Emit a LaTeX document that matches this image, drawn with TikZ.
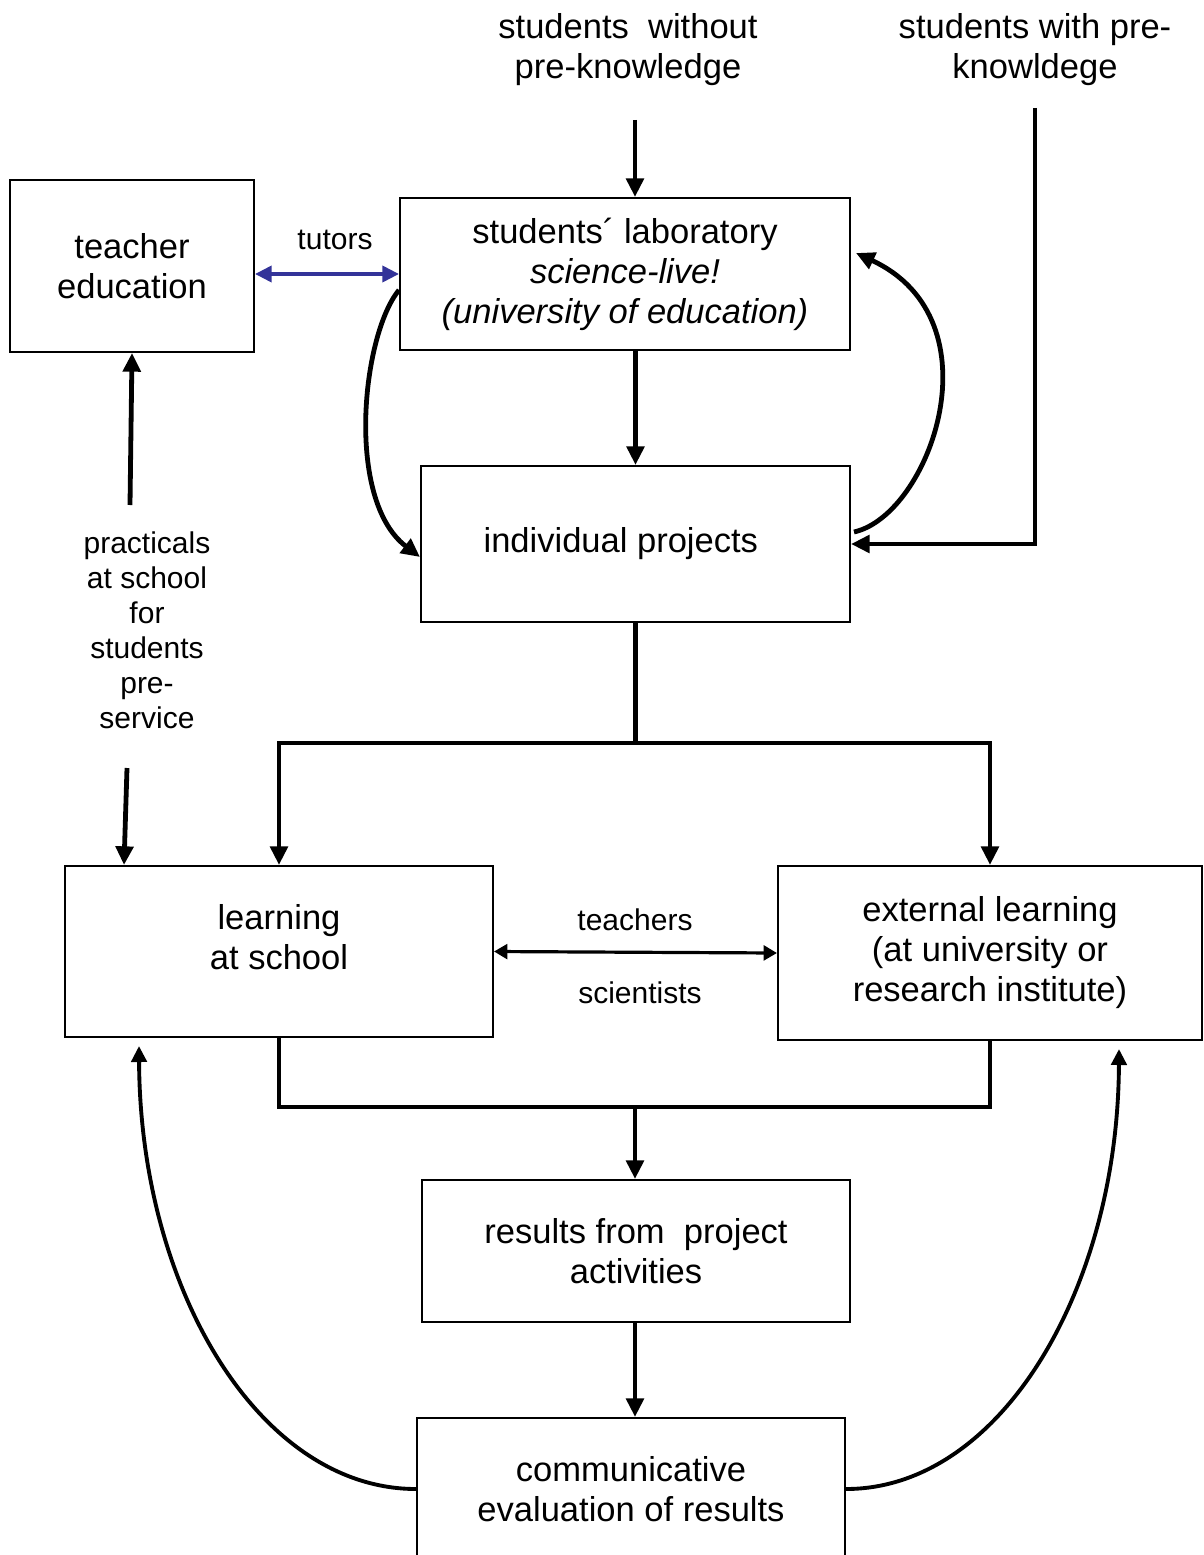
\documentclass[tikz,border=0pt]{standalone}
\usepackage{fontspec}
\setmainfont{Liberation Sans}
\usetikzlibrary{arrows.meta,calc}
\definecolor{tutblue}{HTML}{333399}
\tikzset{
  box/.style={draw=black, line width=1.5pt, rectangle, inner sep=0pt, align=center,
    font=\fontsize{25.9}{30}\selectfont},
  bigtxt/.style={align=center, inner sep=0pt, font=\fontsize{25.9}{30}\selectfont},
  smalltxt/.style={align=center, inner sep=0pt, font=\fontsize{22.5}{26.25}\selectfont},
  thickarr/.style={line width=3.6pt, -{Triangle[length=14pt,width=13pt]}},
  thickline/.style={line width=3.6pt},
  curvearr/.style={line width=2.9pt, -{Triangle[length=12pt,width=11.5pt]}},
  tutarr/.style={draw=tutblue, line width=2.8pt, {Triangle[length=12.5pt,width=12pt]}-{Triangle[length=12.5pt,width=12pt]}},
  tsarr/.style={line width=2.4pt, {Triangle[length=10pt,width=11pt]}-{Triangle[length=10pt,width=11pt]}},
}
\begin{document}
\begin{tikzpicture}[x=0.75pt, y=-0.75pt, line join=miter]
\clip (0,0) rectangle (1203,1555);
\fill[white] (0,0) rectangle (1203,1555);

% boxes
\node[box, minimum width=183pt, minimum height=129pt] (teacher) at (132,266) {teacher\\education};
\node[box, minimum width=337.5pt, minimum height=114pt] (lab) at (625,274)
  {students´ laboratory\\\textit{science-live!}\\\textit{(university of education)}};
\node[box, minimum width=321.75pt, minimum height=117pt] (indiv) at (635.5,544) {individual projects\hspace*{22pt}};
\node[box, minimum width=321pt, minimum height=128.25pt] (school) at (279,951.5) {};
\node[bigtxt] (schooltxt) at (279,937) {learning\\at school};
\node[box, minimum width=318pt, minimum height=130.5pt] (external) at (990,953)
  {external learning\\(at university or\\research institute)};
\node[box, minimum width=321pt, minimum height=106.5pt] (results) at (636,1251) {results from~ project\\activities};
\node[box, minimum width=321pt, minimum height=106.5pt] (comm) at (631,1489) {communicative\\evaluation of results};

% free texts
\node[bigtxt] (without) at (628,50) {students~ without\\pre-knowledge};
\node[bigtxt] (withpre) at (1035,50) {students with pre-\\knowldege};
\node[smalltxt] (tutors) at (335,240) {tutors};
\node[smalltxt] (prac) at (147,630) {practicals\\at school\\for\\students\\pre-\\service};
\node[smalltxt] (teachers) at (635,920) {teachers};
\node[smalltxt] (scientists) at (640,993) {scientists};

% coordinates
\coordinate (topin) at (635,120);
\coordinate (wp) at (1035,108);
\coordinate (sp) at (635,743);
\coordinate (mg) at (635,1107);
\coordinate (pa) at (130,505);
\coordinate (pb) at (127,768);

% connectors
\draw[thickarr] (topin) -- (topin |- lab.north);
\draw[thickarr] (wp) |- (indiv.east);
\draw[tutarr] (teacher.east |- lab.west) -- (lab.west);
\draw[thickarr] (indiv.north |- lab.south) -- (indiv.north);
\draw[thickarr] ($(lab.west)+(0,16)$) .. controls (362,335) and (345,500) .. ($(indiv.west)+(0,13)$);
\draw[thickarr] ($(indiv.east)+(3,-12)$) .. controls (930,515) and (1000,320) .. ($(lab.east)+(5,-21)$);

\draw[thickline] (indiv.south) -- (indiv.south |- sp);
\draw[thickarr] (indiv.south |- sp) -| (school.north);
\draw[thickarr] (indiv.south |- sp) -| (external.north);

\draw[thickarr] (pa) -- (teacher.south);
\draw[thickarr] (pb) -- ($(school.north west)+(60,0)$);

\draw[tsarr] (school.east) -- (external.west);

\draw[thickline] (school.south) |- (mg) -| (external.south);
\draw[thickarr] (mg) -- (mg |- results.north);
\draw[thickarr] (results.south -| mg) -- (mg |- comm.north);

\draw[curvearr] (comm.west) .. controls (260,1489) and (140,1290) .. ($(school.south west)+(75,8)$);
\draw[curvearr] (comm.east) .. controls (1000,1489) and (1118,1290) .. ($(external.south east)+(-84,8)$);
\end{tikzpicture}
\end{document}
